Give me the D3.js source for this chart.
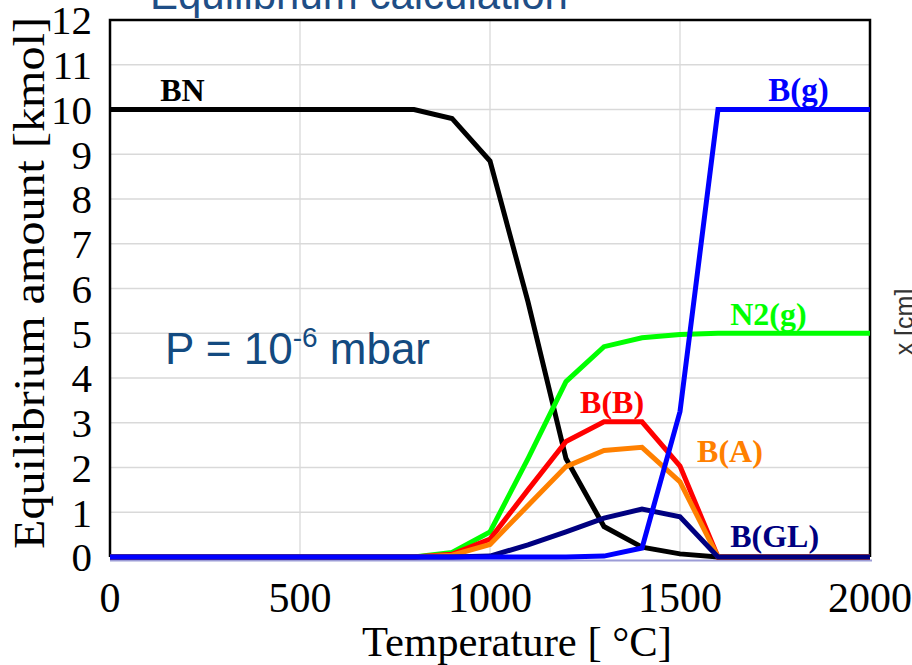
<!DOCTYPE html>
<html>
<head>
<style>
body { margin: 0; background: #fff; }
svg text { font-family: "Liberation Serif", "Times New Roman", serif; }
.sans { font-family: "Liberation Sans", Arial, sans-serif; }
</style>
</head>
<body>
<svg id="chart" width="912" height="665"></svg>
<script src="https://d3js.org/d3.v7.min.js"></script>
<script>

// temperature steps, deg C
var temps = [0, 100, 200, 300, 400, 500, 600, 700, 800, 900, 1000,
             1100, 1200, 1300, 1400, 1500, 1600, 1700, 1800, 1900, 2000];

// equilibrium amounts, kmol
var bn   = [10, 10, 10, 10, 10, 10, 10, 10, 10, 9.8, 8.85, 5.7, 2.2, 0.68, 0.22, 0.07, 0, 0, 0, 0, 0];
var bg   = [0, 0, 0, 0, 0, 0, 0, 0, 0, 0, 0, 0, 0, 0.02, 0.2, 3.25, 10, 10, 10, 10, 10];
var n2g  = [0, 0, 0, 0, 0, 0, 0, 0, 0, 0.1, 0.56, 2.2, 3.92, 4.7, 4.9, 4.97, 5, 5, 5, 5, 5];
var bb   = [0, 0, 0, 0, 0, 0, 0, 0, 0, 0.06, 0.4, 1.5, 2.58, 3.02, 3.02, 2.03, 0, 0, 0, 0, 0];
var ba   = [0, 0, 0, 0, 0, 0, 0, 0, 0, 0.04, 0.28, 1.15, 2.02, 2.38, 2.45, 1.68, 0, 0, 0, 0, 0];
var bgl  = [0, 0, 0, 0, 0, 0, 0, 0, 0, 0, 0.02, 0.27, 0.56, 0.87, 1.07, 0.9, 0, 0, 0, 0, 0];

var xTicks = [0, 500, 1000, 1500, 2000];
var yTicks = [0, 1, 2, 3, 4, 5, 6, 7, 8, 9, 10, 11, 12];

// name, values, colour, label anchor (T, amount)
var series = [
  {name: "BN",    values: bn,  color: "#000000", lx: 132,  ly: 10.19},
  {name: "N2(g)", values: n2g, color: "#00ff00", lx: 1632, ly: 5.18},
  {name: "B(B)",  values: bb,  color: "#ff0000", lx: 1237, ly: 3.22},
  {name: "B(A)",  values: ba,  color: "#ff8000", lx: 1545, ly: 2.12},
  {name: "B(GL)", values: bgl, color: "#000080", lx: 1632, ly: 0.22},
  {name: "B(g)",  values: bg,  color: "#0000ff", lx: 1732, ly: 10.19}
];

var svg = d3.select("#chart");

var x = d3.scaleLinear().domain([0, 2000]).range([110, 870]);
var y = d3.scaleLinear().domain([0, 12]).range([557, 20]);

// slide title, mostly off the top
svg.append("text")
    .attr("class", "sans")
    .attr("x", 150).attr("y", 9)
    .attr("font-size", 42)
    .attr("fill", "#1f4e86")
    .text("Equilibrium calculation");

// grid
svg.append("g").selectAll("line")
    .data(yTicks.slice(1, -1))
    .enter().append("line")
    .attr("x1", x(0)).attr("x2", x(2000))
    .attr("y1", function(d) { return y(d); })
    .attr("y2", function(d) { return y(d); })
    .attr("stroke", "#d9d9d9").attr("stroke-width", 1.3);

svg.append("g").selectAll("line")
    .data(xTicks.slice(1, -1))
    .enter().append("line")
    .attr("y1", y(0)).attr("y2", y(12))
    .attr("x1", function(d) { return x(d); })
    .attr("x2", function(d) { return x(d); })
    .attr("stroke", "#d9d9d9").attr("stroke-width", 1.3);

// frame
svg.append("path")
    .attr("d", "M" + x(0) + "," + y(0) + "V" + y(12) + "H" + x(2000) + "V" + y(0))
    .attr("fill", "none")
    .attr("stroke", "#000")
    .attr("stroke-width", 2.5);
svg.append("line")
    .attr("x1", x(0)).attr("x2", x(2000) + 2)
    .attr("y1", y(0) + 3.5).attr("y2", y(0) + 3.5)
    .attr("stroke", "#9c9cd6").attr("stroke-width", 2);

// tick labels
svg.append("g").selectAll("text")
    .data(yTicks)
    .enter().append("text")
    .attr("x", 92)
    .attr("y", function(d) { return y(d); })
    .attr("dy", "0.35em")
    .attr("text-anchor", "end")
    .attr("font-size", 41)
    .text(function(d) { return d; });

svg.append("g").selectAll("text")
    .data(xTicks)
    .enter().append("text")
    .attr("x", function(d) { return x(d); })
    .attr("y", 612)
    .attr("text-anchor", "middle")
    .attr("font-size", 42)
    .text(function(d) { return d; });

// axis titles
svg.append("text")
    .attr("transform", "translate(44,283) rotate(-90)")
    .attr("text-anchor", "middle")
    .attr("font-size", 44)
    .attr("textLength", 532)
    .attr("lengthAdjust", "spacingAndGlyphs")
    .text("Equilibrium amount [kmol]");

svg.append("text")
    .attr("x", 517).attr("y", 656)
    .attr("text-anchor", "middle")
    .attr("font-size", 42)
    .attr("textLength", 310)
    .attr("lengthAdjust", "spacingAndGlyphs")
    .text("Temperature [ \u00B0C]");

// curves
var line = d3.line()
    .x(function(d, i) { return x(temps[i]); })
    .y(function(d) { return y(d); });

svg.append("g").selectAll("path")
    .data(series)
    .enter().append("path")
    .attr("d", function(s) { return line(s.values); })
    .attr("fill", "none")
    .attr("stroke", function(s) { return s.color; })
    .attr("stroke-width", 5)
    .attr("stroke-linejoin", "miter");

// curve labels
svg.append("g").selectAll("text")
    .data(series)
    .enter().append("text")
    .attr("x", function(s) { return x(s.lx); })
    .attr("y", function(s) { return y(s.ly); })
    .attr("font-size", function(s) { return s.name == "B(g)" ? 33 : 32; })
    .attr("font-weight", "bold")
    .attr("fill", function(s) { return s.color; })
    .text(function(s) { return s.name; });

// pressure note
var p = svg.append("text")
    .attr("class", "sans")
    .attr("x", 165).attr("y", 364)
    .attr("font-size", 44)
    .attr("fill", "#134a80");
p.append("tspan").text("P = 10");
p.append("tspan").attr("dy", -17).attr("font-size", 28).text("-6");
p.append("tspan").attr("dy", 17).text(" mbar");

// clipped axis title of the next chart on the slide
svg.append("text")
    .attr("class", "sans")
    .attr("transform", "translate(913,322) rotate(-90)")
    .attr("text-anchor", "middle")
    .attr("font-size", 25)
    .attr("fill", "#333")
    .text("x [cm]");

</script>
</body>
</html>
